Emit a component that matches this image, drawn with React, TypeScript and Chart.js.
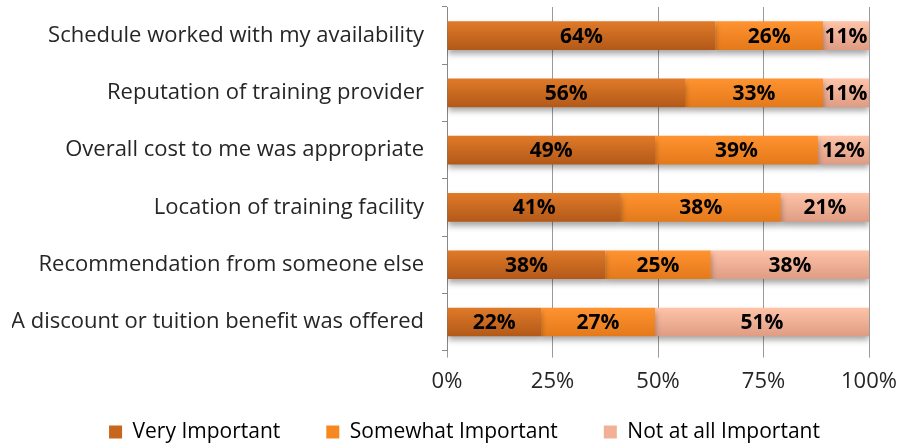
import React, { useEffect, useRef } from "react";
import { Chart, registerables } from "chart.js";

Chart.register(...registerables);

const categories = [
  "Schedule worked with my availability",
  "Reputation of training provider",
  "Overall cost to me was appropriate",
  "Location of training facility",
  "Recommendation from someone else",
  "A discount or tuition benefit was offered",
];
const veryImportant = [63.6, 56.4, 49.3, 41.2, 37.5, 22.3];
const somewhatImportant = [25.5, 32.7, 38.6, 37.9, 25.0, 27.0];
const notImportant = [10.9, 10.9, 12.1, 20.9, 37.5, 50.7];
const xTicks = ["0%", "25%", "50%", "75%", "100%"];

const FONT = "'Open Sans', sans-serif";
const SIZE = 22;
const LEGEND_SIZE = 21;
const LEGEND_PAD = 46;
const LEGEND_CENTER_Y = 432;
const LEGEND_SHIFT_X = 24;
const Y_AXIS_WIDTH = 435;

const palettes = [
  { top: "#E07A28", bottom: "#B25919", solid: "#C8661D" },
  { top: "#FF9330", bottom: "#E4791B", solid: "#F7871F" },
  { top: "#FEC3A8", bottom: "#DE9C83", solid: "#F2B196" },
];

function gradientFor(idx: number) {
  return (context: any) => {
    const chart = context.chart;
    const p = palettes[idx];
    const yScale = chart.scales && chart.scales.y;
    if (!chart.chartArea || !yScale || context.type !== "data") return p.solid;
    const yc = yScale.getPixelForValue(context.dataIndex);
    const band = (yScale.bottom - yScale.top) / categories.length;
    const h = band * 0.5;
    const g = chart.ctx.createLinearGradient(0, yc - h / 2, 0, yc + h / 2);
    g.addColorStop(0, p.top);
    g.addColorStop(1, p.bottom);
    return g;
  };
}

// keep the legend row at its place regardless of the item spacing
const legendPlacePlugin = {
  id: "legendPlace",
  afterLayout(chart: any) {
    const lg = chart.legend;
    if (!lg) return;
    const newTop = LEGEND_CENTER_Y - LEGEND_PAD - LEGEND_SIZE / 2;
    const d = newTop - lg.top;
    lg.top += d;
    lg.bottom += d;
    lg.left += LEGEND_SHIFT_X;
    lg.right += LEGEND_SHIFT_X;
    if (lg.legendHitBoxes)
      lg.legendHitBoxes.forEach((b: any) => {
        b.top += d;
        b.left += LEGEND_SHIFT_X;
      });
  },
};

const shadowPlugin = {
  id: "barShadow",
  beforeDatasetsDraw(chart: any) {
    const ctx = chart.ctx;
    ctx.save();
    ctx.shadowColor = "rgba(0,0,0,0.35)";
    ctx.shadowBlur = 6;
    ctx.shadowOffsetY = 4;
  },
  afterDatasetsDraw(chart: any) {
    chart.ctx.restore();
  },
};

const labelPlugin = {
  id: "barLabels",
  afterDatasetsDraw(chart: any) {
    const ctx = chart.ctx;
    ctx.save();
    ctx.font = `bold 21px ${FONT}`;
    ctx.fillStyle = "#000";
    ctx.textAlign = "center";
    ctx.textBaseline = "middle";
    chart.data.datasets.forEach((ds: any, di: number) => {
      const meta = chart.getDatasetMeta(di);
      meta.data.forEach((bar: any, i: number) => {
        const v = ds.data[i];
        const x = (bar.x + bar.base) / 2;
        ctx.fillText(`${Math.round(v)}%`, x, bar.y + 1);
      });
    });
    ctx.restore();
  },
};

export default function App() {
  const ref = useRef<HTMLCanvasElement>(null);
  useEffect(() => {
    document.body.style.margin = "0";
    const chart = new Chart(ref.current!, {
      type: "bar",
      data: {
        labels: categories,
        datasets: [
          { label: "Very Important", data: veryImportant, backgroundColor: gradientFor(0) },
          { label: "Somewhat Important", data: somewhatImportant, backgroundColor: gradientFor(1) },
          { label: "Not at all Important", data: notImportant, backgroundColor: gradientFor(2) },
        ],
      },
      options: {
        indexAxis: "y",
        animation: false,
        responsive: false,
        maintainAspectRatio: false,
        datasets: { bar: { barPercentage: 1, categoryPercentage: 0.5 } },
        layout: { padding: { top: 7, right: 44, left: 12, bottom: -36 } },
        scales: {
          x: {
            stacked: true,
            min: 0,
            max: 100,
            border: { display: false },
            grid: { color: "#9a9a9a", lineWidth: 1, tickLength: 7, drawTicks: true },
            ticks: {
              stepSize: 25,
              padding: 11,
              color: "#262626",
              font: { family: FONT, size: SIZE },
              callback: (v: any) => xTicks[Math.round(Number(v) / 25)],
            },
          },
          y: {
            stacked: true,
            border: { display: true, color: "#888" },
            grid: { drawOnChartArea: false, tickLength: 5, color: "#888", offset: true },
            ticks: {
              padding: 18,
              color: "#262626",
              font: { family: FONT, size: SIZE },
            },
            afterFit: (scale: any) => {
              scale.paddingTop = 0;
              scale.paddingBottom = 0;
              scale.width = Y_AXIS_WIDTH;
            },
          },
        },
        plugins: {
          tooltip: { enabled: false },
          legend: {
            position: "bottom",
            labels: {
              boxWidth: 13,
              boxHeight: 13,
              padding: LEGEND_PAD,
              color: "#262626",
              font: { family: FONT, size: LEGEND_SIZE },
              generateLabels: (c: any) =>
                c.data.datasets.map((ds: any, i: number) => ({
                  text: ds.label,
                  fillStyle: palettes[i].solid,
                  strokeStyle: palettes[i].solid,
                  lineWidth: 0,
                  datasetIndex: i,
                  hidden: false,
                })),
            },
          },
        },
      },
      plugins: [legendPlacePlugin, shadowPlugin, labelPlugin],
    } as any);
    return () => chart.destroy();
  }, []);
  return (
    <div style={{ position: "fixed", left: 0, top: 0, width: 913, height: 447 }}>
      <canvas ref={ref} width={913} height={447} style={{ width: 913, height: 447 }} />
    </div>
  );
}
